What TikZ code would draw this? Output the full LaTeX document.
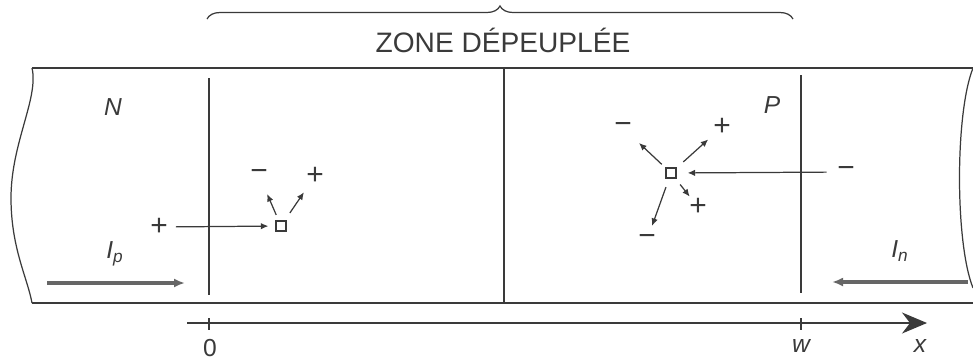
\documentclass[tikz,border=0pt]{standalone}
\usepackage{fontspec}
\setmainfont{Liberation Sans}
\usetikzlibrary{arrows.meta,decorations.pathreplacing}
\definecolor{ink}{HTML}{3A3A3A}
\definecolor{flux}{HTML}{666666}

\begin{document}
\begin{tikzpicture}[color=ink, line width=0.7pt,
    site/.style={draw, rectangle, minimum size=0.2cm, inner sep=0pt},
    charge/.style={inner sep=0pt, font=\fontsize{17}{17}\selectfont},
    lbl/.style={font=\fontsize{14}{16}\selectfont\itshape},
    porteur/.style={-{Latex[length=1.5mm,width=1.3mm]}},
    courant/.style={line width=1.8pt, draw=flux, -{Latex[length=2.2mm,width=1.8mm]}}]
    \useasboundingbox (0,0) rectangle (19.46,7.26);
    % bande
    \draw (0.64,5.9) -- (19.46,5.9);
    \draw (0.64,1.2) -- (19.46,1.2);
    \draw (0.64,5.9) .. controls (0.78,5.3) and (0.22,4.4) .. (0.22,3.3)
        .. controls (0.22,2.3) and (0.55,1.7) .. (0.64,1.2);
    \draw (19.46,5.9) .. controls (19.1,5.0) and (19.1,2.4) .. (19.46,1.5);
    \draw (4.18,5.7) -- (4.18,1.36);
    \draw (10.08,5.9) -- (10.08,1.2);
    \draw (16.02,5.76) -- (16.02,1.4);
    % zone depeuplee
    \draw[decorate, decoration={brace, amplitude=0.26cm}] (4.14,6.88) -- (15.86,6.88);
    \node[font=\fontsize{16}{18}\selectfont] (zone) at (10.06,6.46) {ZONE DÉPEUPLÉE};
    \node[lbl] (N) at (2.26,5.12) {N};
    \node[lbl] (P) at (15.44,5.16) {P};
    % courants
    \coordinate (ip0) at (0.94,1.6);
    \coordinate (ip1) at (3.7,1.6);
    \draw[courant] (ip0) -- (ip1);
    \node[lbl] (Ip) at (2.3,2.18) {I\textsubscript{p}};
    \coordinate (in0) at (19.36,1.62);
    \coordinate (in1) at (16.64,1.62);
    \draw[courant] (in0) -- (in1);
    \node[lbl] (In) at (18.0,2.24) {I\textsubscript{n}};
    % axe
    \coordinate (x0) at (3.74,0.8);
    \coordinate (x1) at (18.54,0.8);
    \draw[-{Stealth[length=5mm, width=4.2mm, inset=1.6mm]}] (x0) -- (x1);
    \draw (4.18,0.9) -- (4.18,0.66);
    \draw (16.02,0.9) -- (16.02,0.66);
    \node[font=\fontsize{14}{16}\selectfont] (o) at (4.2,0.3) {0};
    \node[lbl] (w) at (16.02,0.34) {w};
    \node[lbl] (x) at (18.4,0.34) {x};
    % recombinaison cote N
    \node[site] (s1) at (5.62,2.74) {};
    \node[charge] (p0) at (3.18,2.72) {+};
    \node[charge] (m1) at (5.18,3.76) {−};
    \node[charge] (p1) at (6.3,3.74) {+};
    \draw[porteur, shorten <=0.15cm, shorten >=0.14cm] (p0) -- (s1);
    \draw[porteur, shorten <=0.12cm, shorten >=0.28cm] (s1) -- (m1);
    \draw[porteur, shorten <=0.18cm, shorten >=0.17cm] (s1) -- (p1);
    % generation cote P
    \node[site] (s2) at (13.42,3.8) {};
    \node[charge] (m0) at (16.92,3.82) {−};
    \node[charge] (m2) at (12.46,4.7) {−};
    \node[charge] (p2) at (14.44,4.72) {+};
    \node[charge] (p3) at (13.96,3.12) {+};
    \node[charge] (m3) at (12.94,2.46) {−};
    \draw[porteur, shorten <=0.2cm, shorten >=0.22cm] (m0) -- (s2);
    \draw[porteur, shorten <=0.1cm, shorten >=0.26cm] (s2) -- (m2);
    \draw[porteur, shorten <=0.18cm, shorten >=0.12cm] (s2) -- (p2);
    \draw[porteur, shorten <=0.15cm, shorten >=0.03cm] (s2) -- (p3);
    \draw[porteur, shorten <=0.18cm, shorten >=0.17cm] (s2) -- (m3);
\end{tikzpicture}
\end{document}
